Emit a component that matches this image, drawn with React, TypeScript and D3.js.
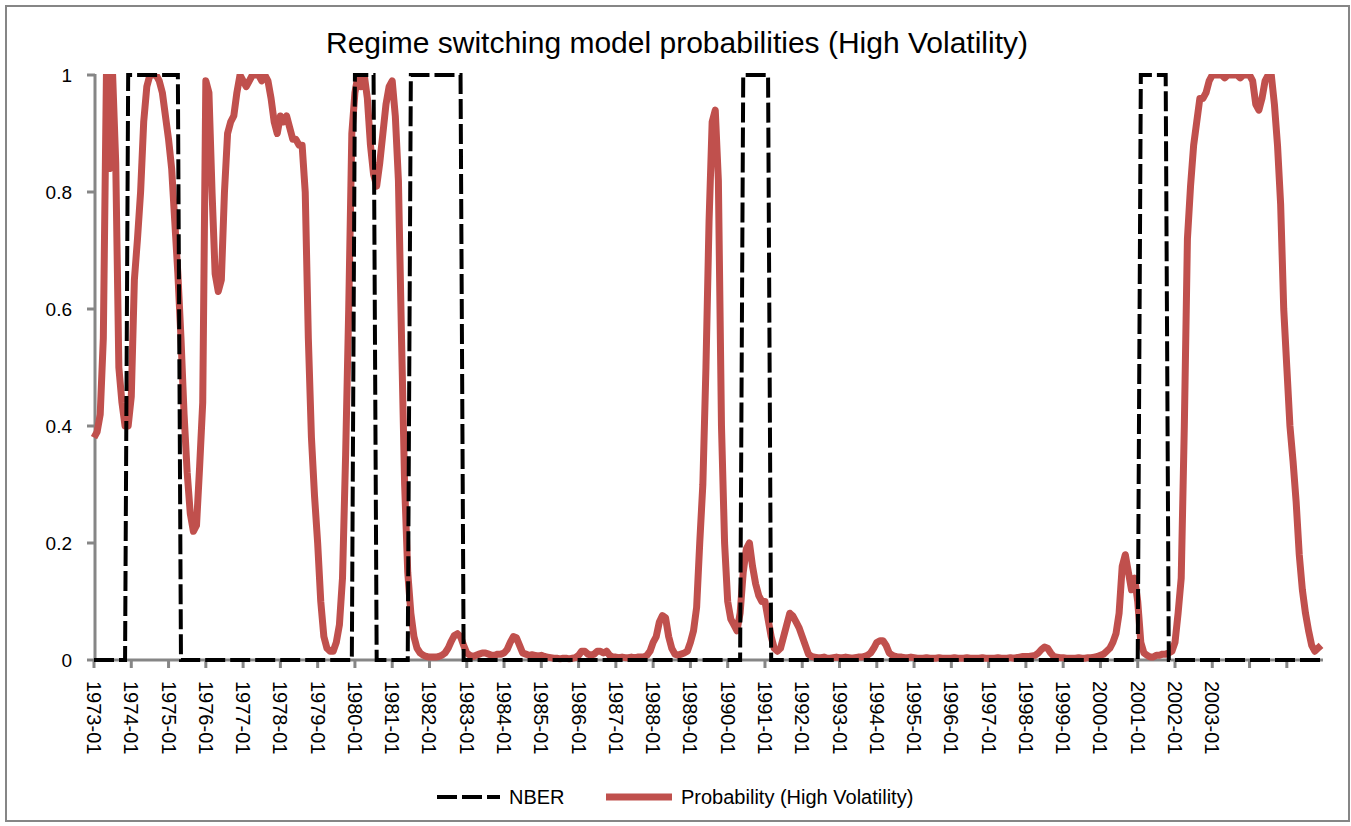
import React from "react";
import * as d3 from "d3";

const titleText = "Regime switching model probabilities (High Volatility)";
const legendLabels = ["NBER", "Probability (High Volatility)"];

// Monthly probabilities of the high-volatility regime
const prob1973_1979 = [
  0.38, 0.39, 0.42, 0.55, 1.0, 0.84, 1.0, 0.85, 0.5, 0.44, 0.4, 0.4,
  0.45, 0.65, 0.72, 0.8, 0.92, 0.98, 1.0, 1.0, 1.0, 0.99, 0.97, 0.93,
  0.89, 0.84, 0.75, 0.66, 0.55, 0.42, 0.32, 0.25, 0.22, 0.23, 0.33, 0.44,
  0.99, 0.97, 0.8, 0.66, 0.63, 0.65, 0.8, 0.9, 0.92, 0.93, 0.97, 1.0,
  0.99, 0.98, 0.99, 1.0, 1.0, 1.0, 0.99, 1.0, 0.99, 0.96, 0.92, 0.9,
  0.93, 0.92, 0.93, 0.91, 0.89, 0.89, 0.88, 0.88, 0.8, 0.55, 0.38, 0.28,
  0.2, 0.1, 0.04, 0.02, 0.015, 0.015, 0.03, 0.06, 0.14, 0.35, 0.6, 0.9,
];
const prob1980_1989 = [
  0.97, 1.0, 0.98, 1.0, 0.96, 0.88, 0.83, 0.81, 0.85, 0.9, 0.95, 0.98,
  0.99, 0.93, 0.82, 0.55, 0.3, 0.15, 0.08, 0.04, 0.02, 0.012, 0.008, 0.006,
  0.005, 0.005, 0.005, 0.006, 0.008, 0.012, 0.02, 0.032, 0.042, 0.045, 0.04, 0.025,
  0.012, 0.008, 0.006, 0.008, 0.01, 0.012, 0.012, 0.01, 0.008, 0.008, 0.01, 0.01,
  0.012, 0.018, 0.03, 0.04, 0.038, 0.025, 0.012, 0.01, 0.008, 0.009, 0.008, 0.007,
  0.008, 0.006, 0.005, 0.004, 0.003, 0.003, 0.002, 0.003, 0.003, 0.002, 0.003, 0.004,
  0.008, 0.015, 0.015, 0.01, 0.008, 0.01, 0.015, 0.015, 0.012, 0.015, 0.008, 0.005,
  0.005, 0.004, 0.005, 0.004, 0.004, 0.005, 0.004, 0.005, 0.005, 0.005, 0.008, 0.015,
  0.03, 0.04, 0.065, 0.076, 0.072, 0.04, 0.02, 0.01, 0.008, 0.01, 0.012, 0.015,
  0.03, 0.05, 0.09, 0.2, 0.3, 0.5, 0.75, 0.92, 0.94, 0.82, 0.4, 0.2,
];
const prob1990_1999 = [
  0.1, 0.07, 0.06, 0.05, 0.08, 0.15, 0.19, 0.2, 0.16, 0.13, 0.11, 0.1,
  0.1, 0.07, 0.04, 0.02, 0.015, 0.02, 0.04, 0.06, 0.08, 0.075, 0.065, 0.055,
  0.04, 0.025, 0.01, 0.006, 0.005, 0.004, 0.004, 0.005, 0.003, 0.003, 0.004, 0.005,
  0.004, 0.004, 0.005, 0.004, 0.003, 0.004, 0.005, 0.005, 0.006, 0.008, 0.012, 0.02,
  0.03, 0.033, 0.033, 0.025, 0.012, 0.008, 0.006, 0.005, 0.005, 0.004, 0.004, 0.005,
  0.004, 0.003, 0.003, 0.003, 0.004, 0.003, 0.003, 0.003, 0.004, 0.003, 0.003, 0.003,
  0.003, 0.004, 0.003, 0.003, 0.003, 0.004, 0.003, 0.003, 0.003, 0.003, 0.004, 0.003,
  0.003, 0.003, 0.003, 0.004, 0.003, 0.003, 0.003, 0.004, 0.003, 0.004, 0.005, 0.006,
  0.006, 0.006, 0.007, 0.008, 0.012, 0.018, 0.022, 0.02, 0.012, 0.006, 0.005, 0.004,
  0.004, 0.003, 0.003, 0.003, 0.003, 0.004, 0.003, 0.003, 0.004, 0.004, 0.005, 0.006,
];
const prob2000_2005 = [
  0.008, 0.01, 0.015, 0.02, 0.03, 0.045, 0.08, 0.16, 0.18, 0.15, 0.12, 0.14,
  0.1, 0.03, 0.012, 0.008, 0.005, 0.005, 0.008, 0.008, 0.01, 0.01, 0.012, 0.015,
  0.03, 0.08, 0.14, 0.4, 0.72, 0.81, 0.88, 0.92, 0.96, 0.96, 0.97, 0.99,
  1.0, 1.0, 1.0, 1.0, 0.995, 1.0, 1.0, 1.0, 1.0, 0.995, 1.0, 1.0,
  1.0, 0.99, 0.95, 0.94, 0.96, 0.99, 1.0, 1.0, 0.95, 0.88, 0.78, 0.6,
  0.5, 0.4, 0.34, 0.27, 0.18, 0.12, 0.08, 0.05, 0.025, 0.015, 0.02, 0.025,
];

// NBER recession periods as drawn (first and last month at 1)
const nberPeriods: [string, string][] = [
  ["1973-12", "1975-04"],
  ["1980-01", "1980-07"],
  ["1981-07", "1982-11"],
  ["1990-06", "1991-02"],
  ["2001-02", "2001-10"],
];

const yTicks = [0, 0.2, 0.4, 0.6, 0.8, 1];
const yTickLabels = ["0", "0.2", "0.4", "0.6", "0.8", "1"];
const xTickLabels = [
  "1973-01", "1974-01", "1975-01", "1976-01", "1977-01", "1978-01", "1979-01",
  "1980-01", "1981-01", "1982-01", "1983-01", "1984-01", "1985-01", "1986-01",
  "1987-01", "1988-01", "1989-01", "1990-01", "1991-01", "1992-01", "1993-01",
  "1994-01", "1995-01", "1996-01", "1997-01", "1998-01", "1999-01", "2000-01",
  "2001-01", "2002-01", "2003-01",
];

const RED = "#C0504D";
const GREY = "#868686";
const FONT = "'Liberation Sans', Arial, sans-serif";

export default function App() {
  const probs = [...prob1973_1979, ...prob1980_1989, ...prob1990_1999, ...prob2000_2005];
  const fmt = d3.timeFormat("%Y-%m");
  const months = d3.timeMonth
    .range(new Date(1973, 0, 1), new Date(2006, 0, 1))
    .map((d) => fmt(d));
  const nber = months.map((m) =>
    nberPeriods.some(([a, b]) => m >= a && m <= b) ? 1 : 0
  );

  const left = 94;
  const right = 1321;
  const top = 75;
  const bottom = 660;

  const x = d3.scalePoint<string>().domain(months).range([left, right]);
  const y = d3.scaleLinear().domain([0, 1]).range([bottom, top]);

  const probLine = d3
    .line<number>()
    .x((_, i) => x(months[i]) as number)
    .y((d) => y(d));
  const nberLine = d3
    .line<number>()
    .x((_, i) => x(months[i]) as number)
    .y((d) => y(d));

  const janMonths = months.filter((m) => m.endsWith("-01"));

  return (
    <div style={{ position: "absolute", left: 0, top: 0 }}>
      <svg width={1351} height={826} style={{ display: "block", background: "#fff" }} fontFamily={FONT}>
        <defs>
          <clipPath id="plotClip">
            <rect x={60} y={top - 1} width={1290} height={620} />
          </clipPath>
        </defs>
        <rect x={6} y={6} width={1343} height={815} fill="#fff" stroke={GREY} strokeWidth={2} />

        <text x={677} y={53} textAnchor="middle" fontSize={30} fill="#000">
          {titleText}
        </text>

        {/* y axis */}
        <line x1={95} x2={95} y1={y(1) - 1} y2={y(0) + 2} stroke={GREY} strokeWidth={3} />
        {yTicks.map((t, i) => (
          <g key={t}>
            <line x1={87} x2={95} y1={y(t)} y2={y(t)} stroke={GREY} strokeWidth={3} />
            <text x={72} y={y(t)} dy="0.35em" textAnchor="end" fontSize={19} fill="#000">
              {yTickLabels[i]}
            </text>
          </g>
        ))}

        {/* x axis */}
        <line x1={left} x2={right + 2} y1={bottom} y2={bottom} stroke={GREY} strokeWidth={3} />
        {janMonths.map((m) => (
          <line key={m} x1={x(m)} x2={x(m)} y1={bottom} y2={bottom + 8} stroke={GREY} strokeWidth={3} />
        ))}
        {xTickLabels.map((lab, k) => {
          const px = x(janMonths[k]) as number;
          return (
            <text
              key={lab}
              transform={`translate(${px},681) rotate(90)`}
              dy="0.35em"
              fontSize={20}
              fill="#000"
            >
              {lab}
            </text>
          );
        })}

        {/* probability line */}
        <g clipPath="url(#plotClip)">
          <path
            d={probLine(probs) || ""}
            fill="none"
            stroke={RED}
            strokeWidth={7}
            strokeLinejoin="round"
          />
        </g>

        {/* NBER */}
        <path
          d={nberLine(nber) || ""}
          fill="none"
          stroke="#000"
          strokeWidth={4}
          strokeDasharray="20,5"
        />

        {/* legend */}
        <line x1={437} x2={500} y1={797} y2={797} stroke="#000" strokeWidth={4} strokeDasharray="20,5" />
        <text x={509} y={797} dy="0.35em" fontSize={20} fill="#000">
          {legendLabels[0]}
        </text>
        <line x1={606} x2={672} y1={797} y2={797} stroke={RED} strokeWidth={7} />
        <text x={681} y={797} dy="0.35em" fontSize={20} fill="#000">
          {legendLabels[1]}
        </text>
      </svg>
    </div>
  );
}
